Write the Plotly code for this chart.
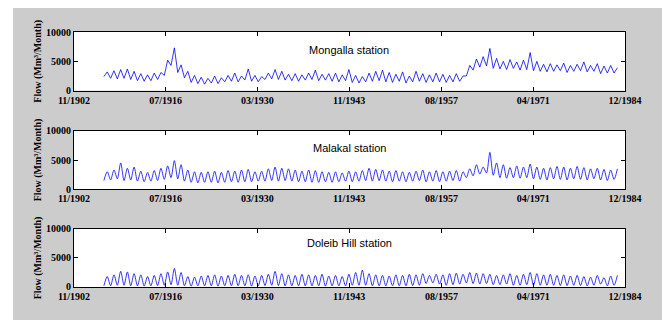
import plotly.graph_objects as go

# ---------------- data (annual trough / peak, Mm3/month) ----------------
years = list(range(1907, 1984))

mongalla_peak = [3200, 3400, 3600, 3700, 3300, 2900, 2700, 3000, 3100, 5200,
                 7300, 4400, 3300, 2600, 2300, 2100, 2500, 2200, 2600, 3000,
                 2500, 3700, 2600, 2400, 3000, 3600, 3300, 2800, 2900, 2700,
                 3000, 3500, 2800, 2900, 3000, 2700, 3600, 2600, 2400, 3000,
                 3300, 3500, 3100, 2800, 3200, 2500, 3300, 2900, 2700, 3000,
                 2800, 2600, 2900, 2500, 4300, 5400, 5800, 7200, 5500, 5000,
                 5300, 4900, 5200, 6500, 5000, 4500, 4600, 4400, 4700, 4300,
                 4500, 4900, 4300, 4600, 4200, 4300, 3900]
mongalla_trough = [2400, 2100, 2000, 2100, 1900, 1700, 1600, 1700, 1900, 2600,
                   4300, 3100, 2200, 1400, 1200, 1100, 1300, 1200, 1500, 1600,
                   1500, 1800, 1600, 1500, 1900, 2000, 1900, 1800, 1700, 1600,
                   1800, 1900, 1700, 1800, 1600, 1500, 1700, 1400, 1300, 1500,
                   1600, 1700, 1500, 1400, 1600, 1300, 1500, 1600, 1400, 1500,
                   1500, 1400, 1500, 1600, 2500, 3500, 4000, 4200, 3800, 3700,
                   3600, 3800, 3500, 3600, 3400, 3300, 3200, 3300, 3400, 3100,
                   3300, 3400, 3200, 3300, 2900, 3000, 3000]

malakal_peak = [3000, 3300, 4500, 3600, 3800, 3100, 2900, 3200, 3600, 4000,
                4900, 4200, 3300, 3000, 2900, 3000, 3100, 2900, 3200, 3100,
                3300, 3400, 3000, 3100, 3500, 3800, 3600, 3500, 3300, 3100,
                3300, 3200, 3000, 2900, 3000, 2800, 3100, 3000, 3200, 3600,
                3400, 3300, 3100, 3200, 3000, 2900, 3100, 3300, 3000, 3200,
                3000, 3100, 3200, 3000, 3500, 4200, 3800, 6300, 4500, 4200,
                3700, 4000, 3800, 4300, 3800, 3600, 3700, 3900, 3800, 3600,
                3900, 3700, 3500, 3600, 3400, 3300, 3500]
malakal_trough = [1500, 1600, 1800, 1500, 1600, 1400, 1300, 1400, 1500, 1700,
                  2000, 1800, 1400, 1200, 1100, 1200, 1200, 1100, 1200, 1300,
                  1200, 1300, 1300, 1400, 1400, 1500, 1400, 1500, 1400, 1300,
                  1300, 1200, 1200, 1300, 1200, 1300, 1400, 1300, 1400, 1500,
                  1400, 1500, 1400, 1300, 1400, 1300, 1400, 1500, 1300, 1400,
                  1300, 1400, 1500, 1400, 2000, 2300, 2600, 2800, 2400, 2000,
                  1900, 2000, 1900, 2000, 1800, 1700, 1600, 1800, 1700, 1600,
                  1800, 1700, 1600, 1800, 1600, 1500, 1700]

doleib_peak = [1800, 2100, 2700, 2600, 2300, 2100, 1800, 2000, 2300, 2600,
               3200, 2500, 1800, 1700, 1900, 2000, 2100, 1900, 2000, 2200,
               2000, 2100, 1900, 2000, 2200, 2700, 2300, 2100, 2000, 2200,
               2100, 2000, 2200, 1900, 2000, 1800, 2200, 2500, 2900, 2300,
               2100, 2000, 1900, 2100, 2000, 2200, 2100, 2300, 2000, 2200,
               2100, 2300, 2400, 2200, 2500, 2400, 2300, 2200, 2000, 2100,
               2300, 2000, 2200, 2500, 2300, 2100, 2200, 2000, 2100, 1900,
               2000, 1800, 1700, 2000, 1600, 1900, 2000]
doleib_trough = [200, 200, 300, 300, 200, 200, 150, 200, 250, 300,
                 400, 300, 200, 150, 200, 200, 200, 150, 200, 200,
                 200, 200, 150, 200, 250, 300, 250, 200, 200, 200,
                 200, 200, 200, 150, 200, 200, 200, 300, 300, 300,
                 200, 200, 200, 200, 200, 200, 250, 300, 600, 700,
                 500, 300, 400, 500, 700, 600, 500, 600, 400, 400,
                 500, 300, 300, 400, 300, 300, 300, 300, 250, 250,
                 300, 250, 200, 300, 500, 200, 300]

stations = ["Mongalla station", "Malakal station", "Doleib Hill station"]
tick_dates = ["1902-11-01", "1916-07-01", "1930-03-01", "1943-11-01",
              "1957-08-01", "1971-04-01", "1984-12-01"]
tick_labels = ["11/1902", "07/1916", "03/1930", "11/1943",
               "08/1957", "04/1971", "12/1984"]
y_ticks = [0, 5000, 10000]
y_title = "Flow (Mm³/Month)"


def series(peaks, troughs):
    xs, ys = [], []
    for yr, tr, pk in zip(years, troughs, peaks):
        xs += [f"{yr}-04-15", f"{yr}-10-15"]
        ys += [tr, pk]
    return xs, ys


all_data = [(mongalla_peak, mongalla_trough),
            (malakal_peak, malakal_trough),
            (doleib_peak, doleib_trough)]
shapes_line = ["linear", "spline", "spline"]

domains = [[0.770, 1.0], [0.383, 0.613], [0.0, 0.2275]]
label_y = [7000, 7100, 7500]

GRAY = "#CCCCCC"
serif = "Liberation Serif"

fig = go.Figure()
annotations = []
layout_axes = {}
for i, ((pk, tr), name) in enumerate(zip(all_data, stations)):
    n = "" if i == 0 else str(i + 1)
    xs, ys = series(pk, tr)
    fig.add_trace(go.Scatter(x=xs, y=ys, mode="lines",
                             line=dict(color="#0000FF", width=0.8,
                                       shape=shapes_line[i], smoothing=0.8),
                             xaxis="x" + n, yaxis="y" + n,
                             showlegend=False, hoverinfo="skip"))
    layout_axes["xaxis" + n] = dict(
        domain=[0, 1], anchor="y" + n, type="date",
        range=["1902-11-01", "1984-12-01"],
        tickvals=tick_dates, ticktext=tick_labels,
        ticks="inside", ticklen=4, tickcolor="black", tickwidth=1,
        showline=True, linecolor="black", linewidth=1, mirror="ticks",
        showgrid=False, zeroline=False, automargin=False,
        tickfont=dict(family=serif, size=10, color="black", weight="bold"),
    )
    layout_axes["yaxis" + n] = dict(
        domain=domains[i], anchor="x" + n, range=[0, 10000],
        tickvals=y_ticks, ticktext=[str(v) for v in y_ticks],
        ticks="inside", ticklen=4, tickcolor="black", tickwidth=1,
        showline=True, linecolor="black", linewidth=1, mirror="ticks",
        showgrid=False, zeroline=False, automargin=False,
        tickfont=dict(family=serif, size=10, color="black", weight="bold"),
        title=dict(text=y_title, standoff=2,
                   font=dict(family=serif, size=10, color="black", weight="bold")),
    )
    annotations.append(dict(
        text=name, x="1943-11-01", y=label_y[i], xref="x" + n, yref="y" + n,
        showarrow=False, font=dict(family="Liberation Sans", size=11, color="black"),
    ))

# the page adds an 8px white margin; widen the white strip on the left by 5px
shapes = [
    dict(type="rect", xref="paper", yref="paper", x0=-0.2, x1=-0.1107,
         y0=-0.3, y1=1.3, fillcolor="white", line=dict(width=0), layer="below"),
]

fig.update_layout(
    width=662, height=312,
    margin=dict(l=66, r=45, t=24, b=33),
    paper_bgcolor=GRAY, plot_bgcolor="white",
    annotations=annotations, shapes=shapes,
    **layout_axes,
)

fig.write_html("out.html")
